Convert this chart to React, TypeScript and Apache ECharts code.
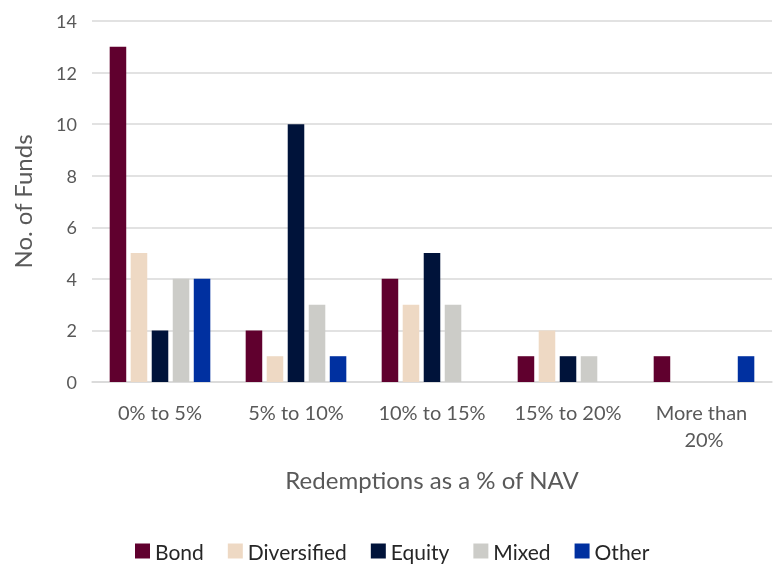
import React, { useEffect, useRef } from "react";
import * as echarts from "echarts";

const categories = ["0% to 5%", "5% to 10%", "10% to 15%", "15% to 20%", "More than 20%"];
const seriesNames = ["Bond", "Diversified", "Equity", "Mixed", "Other"];
const bond = [13, 2, 4, 1, 1];
const diversified = [5, 1, 3, 2, 0];
const equity = [2, 10, 5, 1, 0];
const mixed = [4, 3, 3, 1, 0];
const other = [4, 1, 0, 0, 1];
const colors = ["#60002E", "#EED9C4", "#00133A", "#CCCCC8", "#0030A0"];

const FONT = "Lato, 'Open Sans', sans-serif";

export default function App() {
  const ref = useRef<HTMLDivElement>(null);
  useEffect(() => {
    if (!ref.current) return;
    const chart = echarts.init(ref.current, undefined, { renderer: "svg" });
    const values = [bond, diversified, equity, mixed, other];
    chart.setOption({
      animation: false,
      textStyle: { fontFamily: FONT },
      grid: { left: 92, right: 2, top: 21, bottom: 182, containLabel: false },
      legend: {
        top: 540,
        left: 135,
        padding: 0,
        itemWidth: 15,
        itemHeight: 15,
        itemGap: 24,
        icon: "rect",
        textStyle: { fontSize: 21, lineHeight: 22, color: "#262626", fontFamily: FONT },
        data: seriesNames,
      },
      xAxis: {
        type: "category",
        data: categories,
        axisLine: { lineStyle: { color: "#D9D9D9", width: 1.5 } },
        axisTick: { show: false },
        axisLabel: {
          color: "#595959",
          fontSize: 20,
          margin: 16,
          width: 125,
          overflow: "break",
          lineHeight: 27,
          interval: 0,
        },
        name: "Redemptions as a % of NAV",
        nameLocation: "middle",
        nameGap: 85,
        nameTextStyle: { color: "#595959", fontSize: 24 },
      },
      yAxis: {
        type: "value",
        min: 0,
        max: 14,
        interval: 2,
        axisLine: { show: false },
        axisTick: { show: false },
        splitLine: { lineStyle: { color: "#D9D9D9", width: 1.5 } },
        axisLabel: { color: "#595959", fontSize: 18, margin: 15 },
        name: "No. of Funds",
        nameLocation: "middle",
        nameGap: 58,
        nameRotate: 90,
        nameTextStyle: { color: "#595959", fontSize: 24 },
      },
      series: seriesNames.map((n, i) => ({
        name: n,
        type: "bar",
        data: values[i],
        barGap: "27%",
        barCategoryGap: "26%",
        itemStyle: { color: colors[i] },
      })),
    });
    return () => chart.dispose();
  }, []);
  return (
    <div
      ref={ref}
      style={{ position: "fixed", left: 0, top: 0, width: 774, height: 564 }}
    />
  );
}
